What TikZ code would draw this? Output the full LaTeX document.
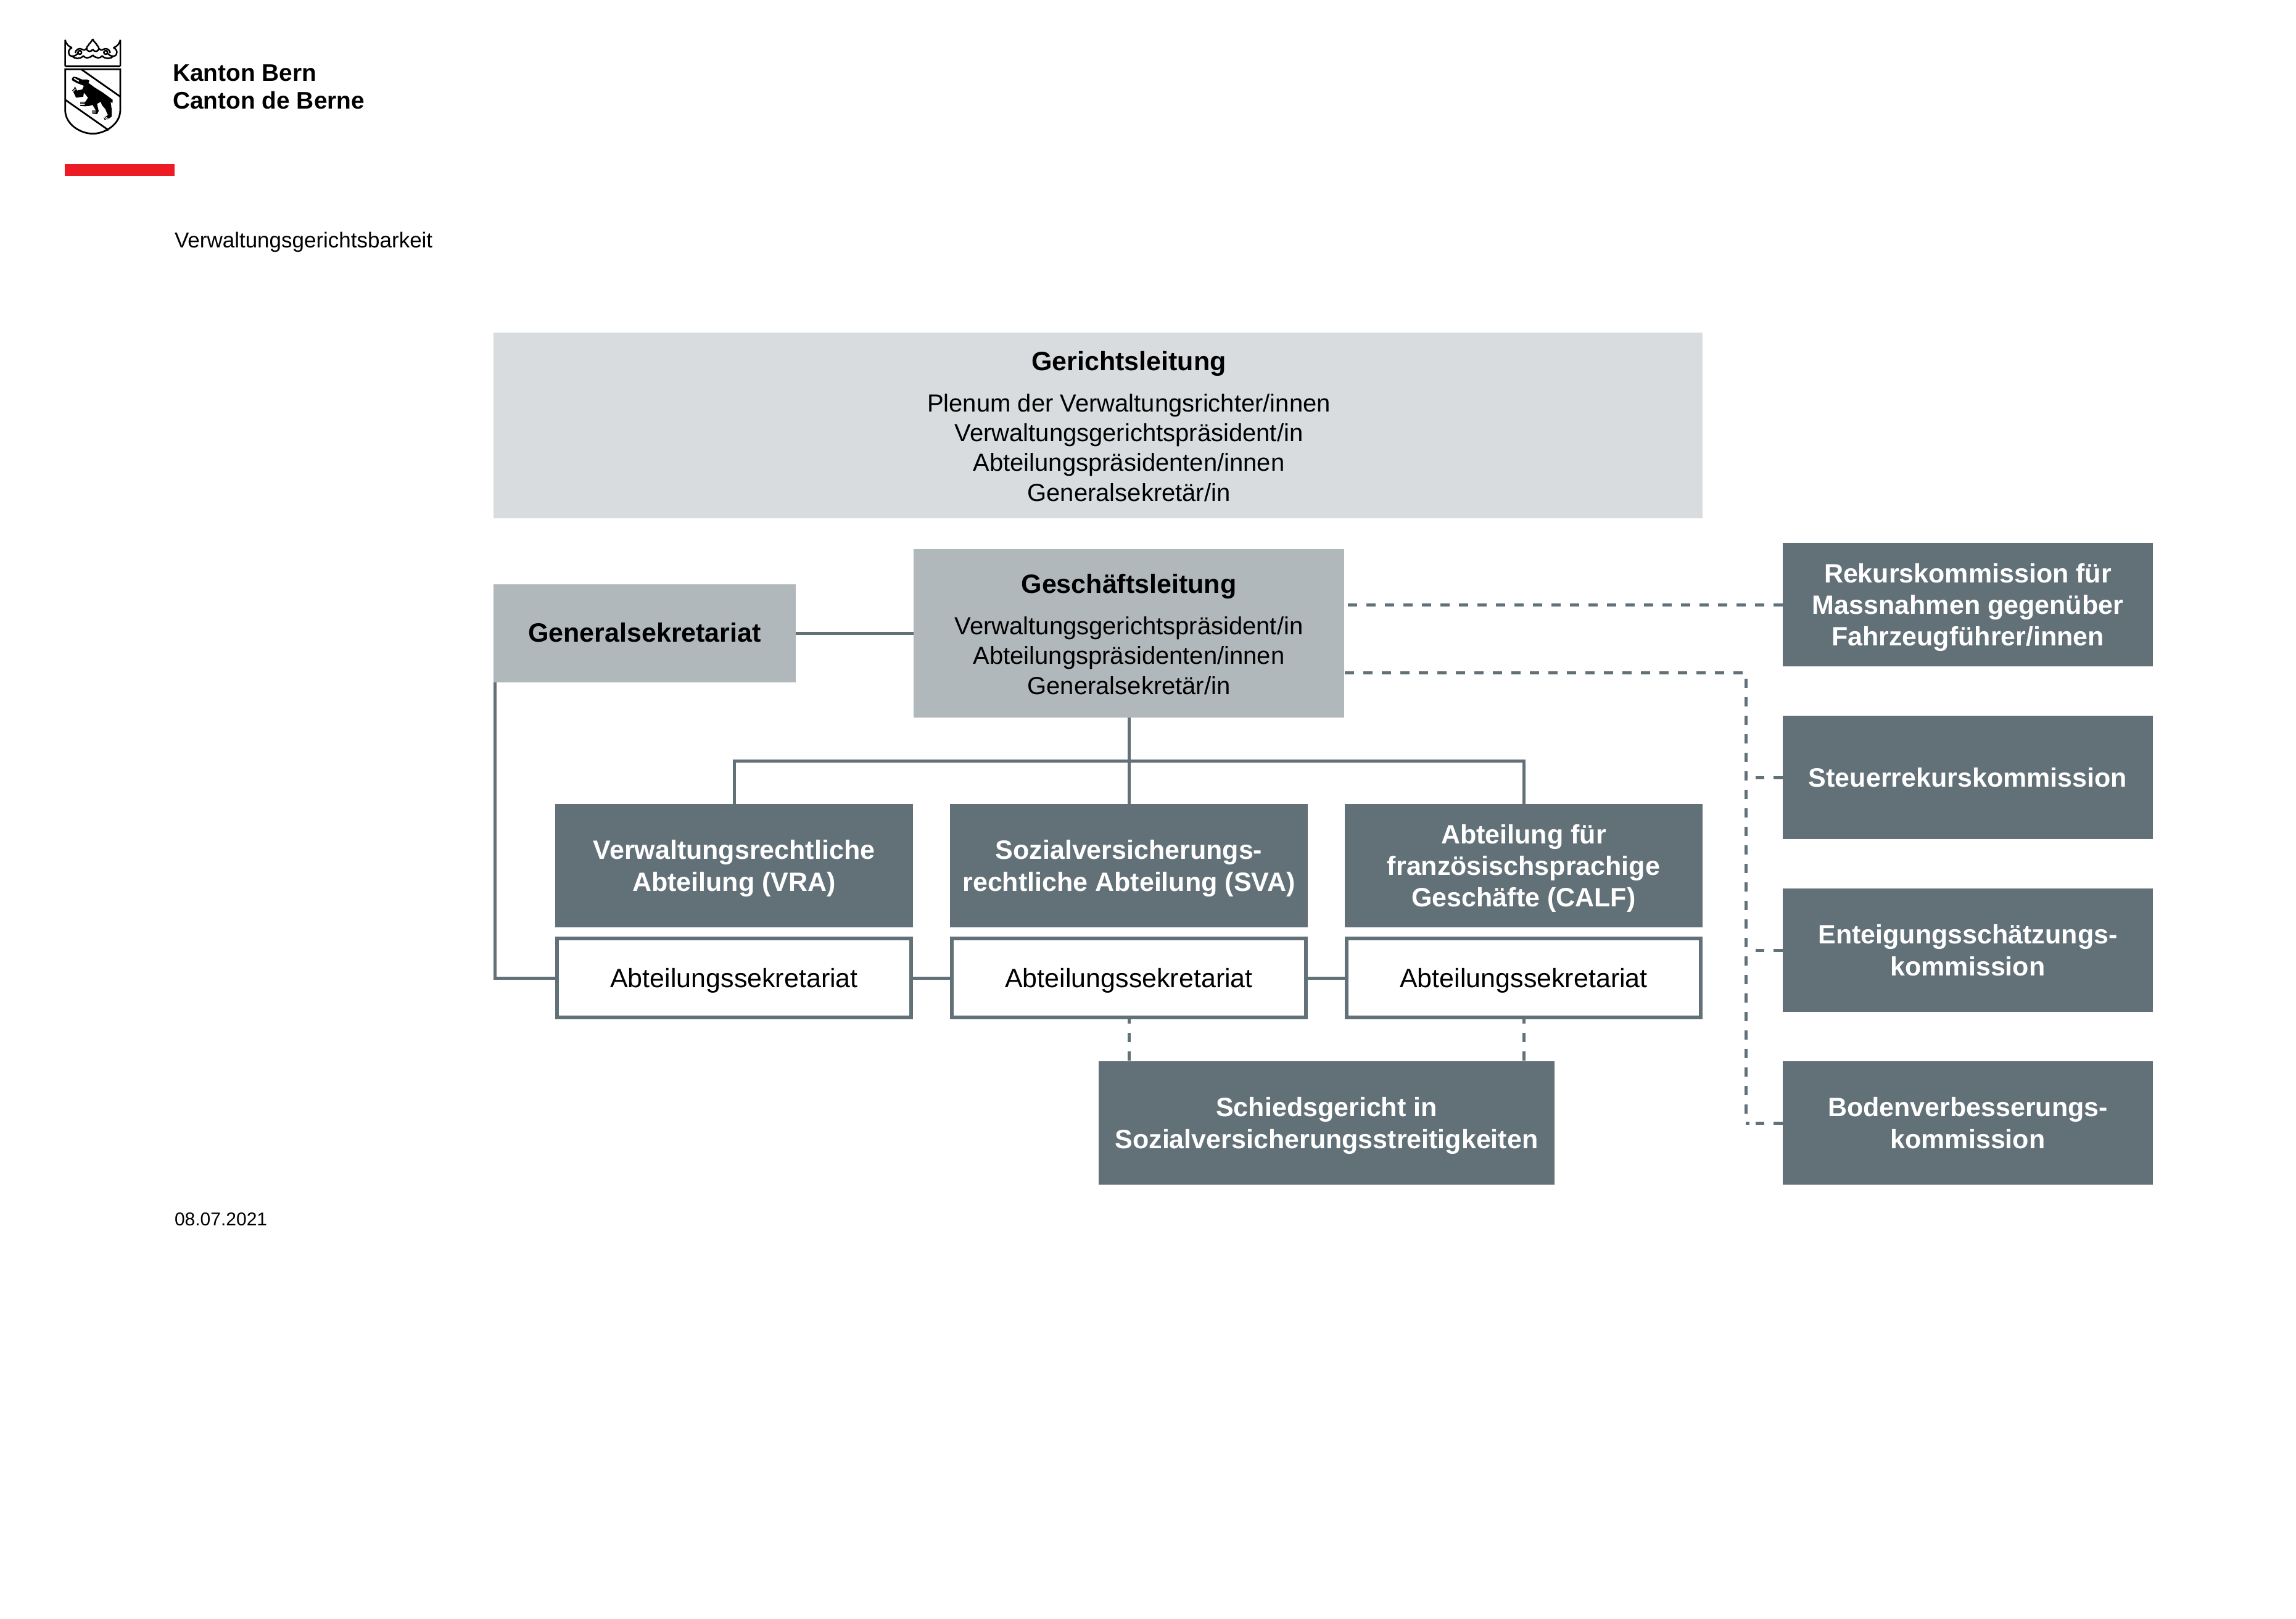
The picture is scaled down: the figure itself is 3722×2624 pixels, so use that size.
\documentclass[tikz,border=0pt]{standalone}
\usepackage{fontspec}
\setmainfont{Liberation Sans}
\definecolor{dark}{HTML}{627078}
\definecolor{mid}{HTML}{B1B8BB}
\definecolor{pale}{HTML}{D9DCDE}
\definecolor{bernred}{HTML}{ED1C24}
\newcommand{\topstrut}{\leavevmode\vrule height 0.93em depth 0pt width 0pt\relax}
\newcommand{\botstrut}{\vrule height 0pt depth 0.21em width 0pt\relax}
\newcommand{\lowr}{\vrule height 8.5pt depth 0pt width 0pt\relax}
\newcommand{\bx}[7]{\node[#6,minimum width={(#4-#2)*0.2pt},minimum height={(#5-#3)*0.2pt}] (#1) at ({(#2+#4)/2},{(#3+#5)/2}) {\topstrut #7\botstrut};}
\newcommand{\ttl}[1]{{\fontsize{8.6pt}{10.2pt}\selectfont\bfseries #1}}
\newcommand{\sft}{\hspace*{20pt}}
\tikzset{
  base/.style={inner sep=0pt,outer sep=0pt,align=center,text=black},
  palebox/.style={base,fill=pale,font=\fontsize{8pt}{9.68pt}\selectfont},
  midbox/.style={base,fill=mid,font=\fontsize{8pt}{9.68pt}\selectfont},
  deptbox/.style={base,fill=dark,text=white,font=\fontsize{8.6pt}{10.25pt}\selectfont\bfseries},
  secbox/.style={base,draw=dark,fill=white,line width=1.1pt,font=\fontsize{8.6pt}{10.2pt}\selectfont},
  ln/.style={draw=dark,line width=1pt},
  dsh/.style={draw=dark,line width=1pt,dash pattern=on 3pt off 3pt},
  dshb/.style={dsh,dash phase=1pt},
  free/.style={inner sep=0pt,outer sep=0pt,anchor=west,align=left}
}
\begin{document}
\begin{tikzpicture}[x=0.2pt,y=-0.2pt]
\useasboundingbox (0,0) rectangle (3722,2624);
% boxes
\bx{gl}{800}{539}{2760}{840}{palebox}{\lowr\sft\ttl{Gerichtsleitung}\\[3.6pt]\sft Plenum der Verwaltungsrichter/innen\\\sft Verwaltungsgerichtspräsident/in\\\sft Abteilungspräsidenten/innen\\\sft Generalsekretär/in}
\bx{gen}{800}{947}{1290}{1106}{midbox}{\ttl{Generalsekretariat}}
\bx{gf}{1481}{890}{2179}{1163}{midbox}{\lowr\ttl{Geschäftsleitung}\\[3.6pt]Verwaltungsgerichtspräsident/in\\Abteilungspräsidenten/innen\\Generalsekretär/in}
\bx{dvra}{900}{1303}{1480}{1503}{deptbox}{Verwaltungsrechtliche\\Abteilung (VRA)}
\bx{dsva}{1540}{1303}{2120}{1503}{deptbox}{Sozialversicherungs-\\rechtliche Abteilung (SVA)}
\bx{dcalf}{2180}{1303}{2760}{1503}{deptbox}{Abteilung für\\französischsprachige\\Geschäfte (CALF)}
\bx{sa}{903}{1521}{1477}{1649}{secbox}{Abteilungssekretariat}
\bx{sb}{1543}{1521}{2117}{1649}{secbox}{Abteilungssekretariat}
\bx{sc}{2183}{1521}{2757}{1649}{secbox}{Abteilungssekretariat}
\bx{sg}{1781}{1720}{2520}{1920}{deptbox}{Schiedsgericht in\\Sozialversicherungsstreitigkeiten}
\bx{ra}{2890}{880}{3490}{1080}{deptbox}{Rekurskommission für\\Massnahmen gegenüber\\Fahrzeugführer/innen}
\bx{rb}{2890}{1160}{3490}{1360}{deptbox}{Steuerrekurskommission}
\bx{rc}{2890}{1440}{3490}{1640}{deptbox}{Enteigungsschätzungs-\\kommission}
\bx{rd}{2890}{1720}{3490}{1920}{deptbox}{Bodenverbesserungs-\\kommission}
% solid connectors
\coordinate (tree) at (1830,1233);
\draw[ln] (gen.east) -- (gf.west);
\draw[ln] (gf.south) -- (dsva.north);
\draw[ln] (dvra.north) -- (dvra.north |- tree) -- (tree -| dcalf.north) -- (dcalf.north);
\draw[ln] ([xshift=0.5pt]gen.south west) -- ([xshift=0.5pt]gen.south west |- sa.west) -- (sa.west);
\draw[ln] (sa.east) -- (sb.west);
\draw[ln] (sb.east) -- (sc.west);
% dashed connectors
\coordinate (gfa) at (2185,980);
\coordinate (gfb) at (2180,1090);
\coordinate (bus) at (2830,1090);
\coordinate (busend) at (2830,1820);
\coordinate (busdot) at (2836,1820);
\draw[dsh] (gfa) -- (ra.west);
\draw[dsh] (gfb) -- (bus) -- (busend) -- (busdot);
\coordinate (stb) at (2846,1260);
\coordinate (stc) at (2846,1540);
\coordinate (std) at (2846,1820);
\draw[dsh] (rb.west) -- (stb);
\draw[dsh] (rc.west) -- (stc);
\draw[dsh] (rd.west) -- (std);
\draw[dshb] (sb.south) -- (sb.south |- sg.north);
\draw[dshb] (sc.south) -- (sc.south |- sg.north);
% header
\fill[bernred] (105,266) rectangle (283,285);
\node[free] (t1) at (280,118) {\fontsize{7.78pt}{9pt}\selectfont\bfseries Kanton Bern};
\node[free] (t2) at (280,163) {\fontsize{7.78pt}{9pt}\selectfont\bfseries Canton de Berne};
\node[free] (t3) at (283,392) {\fontsize{7pt}{9pt}\selectfont Verwaltungsgerichtsbarkeit};
\node[free] (t4) at (283,1976) {\fontsize{6pt}{8pt}\selectfont 08.07.2021};
% crown
\begin{scope}[shift={(100,60)},x=0.06667pt,y=-0.06667pt,line width=0.5pt,line join=bevel]
\draw (17,142) -- (285,142);
\foreach \m/\o in {1/0,-1/-302}{
\begin{scope}[xscale=\m,xshift={\o*0.06667pt}]
\draw (17,142) -- (17,14) .. controls (22,38) and (38,48) .. (50,52)
  .. controls (28,60) and (28,92) .. (50,93)
  .. controls (62,94) and (72,88) .. (79,80);
\draw (88,75) circle (9);
\draw (50,93) .. controls (65,108) and (90,108) .. (105,92)
  .. controls (115,105) and (135,105) .. (151,88);
\draw (66,78) .. controls (68,60) and (85,52) .. (100,60) .. controls (108,66) and (115,62) .. (122,56);
\draw (151,10) .. controls (145,25) and (132,32) .. (130,40) .. controls (118,48) and (118,68) .. (135,70) .. controls (142,70) and (148,66) .. (151,60);
\end{scope}}
\end{scope}
% shield and bear
\begin{scope}[shift={(100,115)},x=0.06667pt,y=-0.06667pt]
\draw[line width=0.55pt] (17,-8) -- (285,-8) -- (285,190) .. controls (285,260) and (210,305) .. (151,305) .. controls (92,305) and (17,260) .. (17,190) -- cycle;
\draw[line width=0.55pt] (95,-8) -- (285,125);
\draw[line width=0.55pt] (17,140) -- (228,288);
\fill (58,28) -- (72,30) -- (100,42) -- (125,42) -- (135,48) -- (130,58) -- (160,80) -- (200,105) -- (248,140) -- (247,157) -- (238,150) -- (243,185) -- (243,222) -- (225,235) -- (208,237) -- (205,226) -- (225,215) -- (212,185) -- (195,165) -- (190,150) -- (172,160) -- (180,195) -- (172,210) -- (148,207) -- (147,190) -- (165,190) -- (150,165) -- (135,170) -- (112,172) -- (90,170) -- (90,150) -- (115,150) -- (128,130) -- (108,105) -- (105,125) -- (70,130) -- (58,105) -- (50,93) -- (65,76) -- (75,95) -- (100,90) -- (108,72) -- (90,65) -- (72,58) -- (50,45) -- (50,35) -- cycle;
\draw[white,line width=0.35pt] (60,36) -- (84,50);
\draw[white,line width=0.2pt] (62,81) -- (46,97) (68,87) -- (52,103) (90,156) -- (112,156) (90,163) -- (112,163) (147,195) -- (165,195) (147,201) -- (165,201) (207,226) -- (225,240) (212,222) -- (230,236);
\end{scope}
\end{tikzpicture}
\end{document}
